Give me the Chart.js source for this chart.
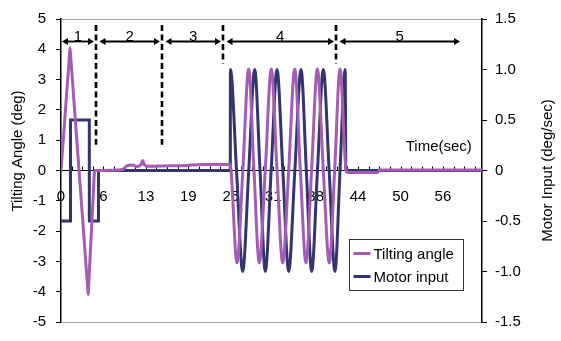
<!DOCTYPE html>
<html>
<head>
<meta charset="utf-8">
<script src="https://cdn.jsdelivr.net/npm/chart.js@4.4.1/dist/chart.umd.min.js"></script>
<style>
  html, body { margin: 0; padding: 0; background: #fff; }
  #chart { display: block; }
</style>
</head>
<body>
<canvas id="chart" width="561" height="341"></canvas>
<script>
// Tilting angle (deg) - left axis
const tiltTime = [0, 1.2, 1.33, 1.46, 3.87, 4.0, 4.1, 4.8, 4.95, 5.6, 9.0, 9.7, 10.5, 11.3, 11.8, 12.05, 12.3, 13.0, 15.0, 18.0, 21.0, 24.93,
  25.05, 25.92, 26.78, 27.64, 28.42, 29.2, 30.08, 30.97, 31.81, 32.65, 33.53, 34.42, 35.25, 36.08, 36.9, 37.75, 38.63, 39.51, 40.3, 41.09,
  42.0, 42.3, 46.6, 47.0, 62];
const tiltDeg = [0, 3.66, 4.06, 3.66, -3.69, -4.09, -3.66, -0.6, 0, 0, 0.03, 0.15, 0.18, 0.13, 0.2, 0.33, 0.18, 0.14, 0.15, 0.16, 0.2, 0.2,
  0, -3.05, 0, 3.35, 0, -3.05, 0, 3.35, 0, -3.05, 0, 3.35, 0, -3.05, 0, 3.35, 0, -3.05, 0, 3.35,
  0, -0.07, -0.07, 0.02, 0.02];

// Motor input (deg/sec) - right axis
const motorTime = [0, 1.4, 1.4, 4.17, 4.17, 5.52, 5.52, 24.93, 24.95, 25.85, 26.76, 27.65, 28.53, 29.31, 30.09, 30.95, 31.81,
  32.67, 33.53, 34.44, 35.35, 36.13, 36.92, 37.77, 38.63, 39.49, 40.35, 41.09, 41.85, 41.95, 62];
const motorRate = [-0.5, -0.5, 0.5, 0.5, -0.5, -0.5, 0, 0, 1.0, 0, -1.0, 0, 1.0, 0, -1.0, 0, 1.0,
  0, -1.0, 0, 1.0, 0, -1.0, 0, 1.0, 0, -1.0, 0, 1.0, 0, 0];

// phases: boundaries in seconds, names, where the dashed lines stop (deg)
const phaseEdges = [0, 5.15, 14.87, 23.86, 40.5, 59.06];
const phaseNames = ["1", "2", "3", "4", "5"];
const dividerTop = 4.8;
const dividerBottom = [0.85, 0.85, 3.53, 3.53];
const arrowLevel = 4.27;

const xLabelStep = 6.25;
const xMinorStep = 1.5625;

const PURPLE = "#a65bb5";
const NAVY = "#34346e";
const FONT = "'Liberation Sans', Arial, sans-serif";

Chart.defaults.font.family = FONT;
Chart.defaults.font.size = 15;
Chart.defaults.color = "#000";

const toPoints = (xs, ys) => xs.map((t, i) => ({ x: t, y: ys[i] }));

function drawArrow(ctx, x1, x2, y) {
  const head = 6, half = 3.5;
  ctx.beginPath();
  ctx.moveTo(x1 + head - 1, y);
  ctx.lineTo(x2 - head + 1, y);
  ctx.stroke();
  ctx.beginPath();
  ctx.moveTo(x1, y); ctx.lineTo(x1 + head, y - half); ctx.lineTo(x1 + head, y + half); ctx.closePath();
  ctx.moveTo(x2, y); ctx.lineTo(x2 - head, y - half); ctx.lineTo(x2 - head, y + half); ctx.closePath();
  ctx.fill();
}

function drawVerticalText(ctx, text, cx, cy) {
  ctx.save();
  ctx.translate(cx, cy);
  ctx.rotate(-Math.PI / 2);
  ctx.textAlign = "center";
  ctx.textBaseline = "middle";
  ctx.fillText(text, 0, 0);
  ctx.restore();
}

const overlay = {
  id: "overlay",
  beforeDatasetsDraw(chart) {
    // small tick marks pointing up from the time axis
    const { ctx, scales: { x, y } } = chart;
    const y0 = y.getPixelForValue(0);
    ctx.save();
    ctx.strokeStyle = "#000";
    ctx.lineWidth = 1;
    x.ticks.forEach((t) => {
      const px = Math.round(x.getPixelForValue(t.value)) + 0.5;
      ctx.beginPath();
      ctx.moveTo(px, y0);
      ctx.lineTo(px, y0 - 4);
      ctx.stroke();
    });
    ctx.restore();
  },
  afterDatasetsDraw(chart) {
    const { ctx, chartArea, scales: { x, y } } = chart;
    ctx.save();

    // dashed phase dividers
    ctx.strokeStyle = "#000";
    ctx.lineWidth = 2.6;
    ctx.setLineDash([6, 3.5]);
    dividerBottom.forEach((bottom, i) => {
      const px = Math.round(x.getPixelForValue(phaseEdges[i + 1]));
      ctx.beginPath();
      ctx.moveTo(px, y.getPixelForValue(dividerTop));
      ctx.lineTo(px, y.getPixelForValue(bottom));
      ctx.stroke();
    });
    ctx.setLineDash([]);

    // double arrows and phase numbers
    const ay = Math.round(y.getPixelForValue(arrowLevel)) + 0.5;
    ctx.lineWidth = 1.8;
    ctx.fillStyle = "#000";
    ctx.font = "15px " + FONT;
    ctx.textAlign = "center";
    ctx.textBaseline = "alphabetic";
    phaseNames.forEach((name, i) => {
      const left = x.getPixelForValue(phaseEdges[i]) + (i === 0 ? 1 : 3.5);
      const right = x.getPixelForValue(phaseEdges[i + 1]) - 2;
      drawArrow(ctx, left, right, ay);
      ctx.fillText(name, (left + right) / 2, ay - 1);
    });

    // axis caption inside the plot
    ctx.textAlign = "right";
    ctx.textBaseline = "middle";
    ctx.fillText("Time(sec)", x.getPixelForValue(60.5), y.getPixelForValue(0.77));

    // legend box
    const box = { left: 349.5, top: 239.5, width: 114, height: 51 };
    ctx.fillStyle = "#fff";
    ctx.fillRect(box.left, box.top, box.width, box.height);
    ctx.strokeStyle = "#333";
    ctx.lineWidth = 1;
    ctx.strokeRect(box.left, box.top, box.width, box.height);
    ctx.textAlign = "left";
    chart.data.datasets.forEach((ds, i) => {
      const ly = box.top + 14 + i * 23;
      ctx.strokeStyle = ds.borderColor;
      ctx.lineWidth = 3;
      ctx.beginPath();
      ctx.moveTo(box.left + 4, ly);
      ctx.lineTo(box.left + 21, ly);
      ctx.stroke();
      ctx.fillStyle = "#000";
      ctx.fillText(ds.label, box.left + 24, ly + 1);
    });

    // axis titles, both reading bottom to top
    ctx.fillStyle = "#000";
    drawVerticalText(ctx, "Tilting Angle (deg)", 18, 151);
    drawVerticalText(ctx, "Motor Input (deg/sec)", 548, (chartArea.top + chartArea.bottom) / 2);
    ctx.restore();
  }
};

new Chart(document.getElementById("chart"), {
  type: "line",
  data: {
    datasets: [
      {
        label: "Tilting angle",
        data: toPoints(tiltTime, tiltDeg),
        yAxisID: "y",
        borderColor: PURPLE,
        borderWidth: 3,
        pointRadius: 0,
        cubicInterpolationMode: "monotone"
      },
      {
        label: "Motor input",
        data: toPoints(motorTime, motorRate),
        yAxisID: "y1",
        borderColor: NAVY,
        borderWidth: 3,
        pointRadius: 0,
        cubicInterpolationMode: "monotone"
      }
    ]
  },
  options: {
    responsive: false,
    animation: false,
    layout: { padding: { top: 11, bottom: 13, left: 0, right: 0 } },
    plugins: { legend: { display: false }, tooltip: { enabled: false } },
    scales: {
      x: {
        type: "linear",
        min: 0,
        max: 62,
        position: { y: 0 },
        grid: { display: false, drawTicks: false },
        border: { display: true, color: "#000", width: 1 },
        ticks: {
          stepSize: xMinorStep,
          includeBounds: false,
          autoSkip: false,
          maxRotation: 0,
          padding: 17,
          callback: (v) => {
            const k = v / xLabelStep;
            return Math.abs(k - Math.round(k)) < 1e-6 ? String(Math.round(v)) : "";
          }
        }
      },
      y: {
        position: "left",
        min: -5,
        max: 5,
        ticks: { stepSize: 1, padding: 10 },
        grid: {
          color: (c) => (c.tick && Math.abs(c.tick.value) === 5 ? "#a6a6a6" : "rgba(0,0,0,0)"),
          tickColor: "#000",
          tickLength: 5
        },
        border: { color: "#000", width: 1.5 },
        afterFit: (s) => { s.width = 61; }
      },
      y1: {
        position: "right",
        min: -1.5,
        max: 1.5,
        ticks: { stepSize: 0.5, padding: 8 },
        grid: { drawOnChartArea: false, tickColor: "#000", tickLength: 5 },
        border: { color: "#000", width: 1.5 },
        afterFit: (s) => { s.width = 79; }
      }
    }
  },
  plugins: [overlay]
});
</script>
</body>
</html>
